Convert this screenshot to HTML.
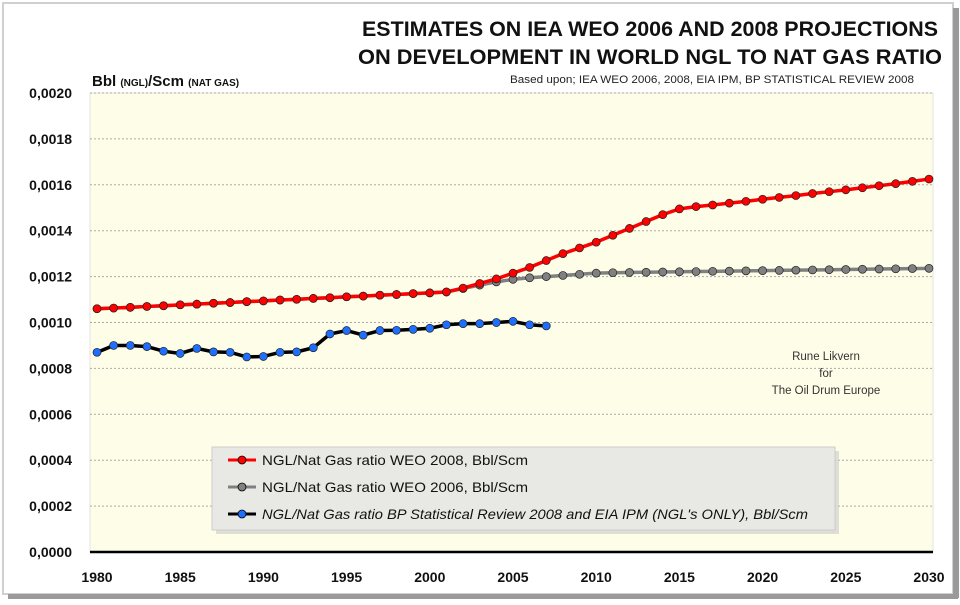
<!DOCTYPE html>
<html><head><meta charset="utf-8"><style>
body{margin:0;background:#fff;width:960px;height:600px;overflow:hidden}
text{font-family:"Liberation Sans",sans-serif}
</style></head><body>
<svg id="s" width="960" height="600" xmlns="http://www.w3.org/2000/svg">
<rect x="0" y="0" width="960" height="600" fill="#fff"/>
<rect x="3" y="3" width="950" height="591" fill="#fff" stroke="#d0d0d0" stroke-width="2"/>
<rect x="953" y="8" width="6" height="590" fill="#9a9a9a"/>
<rect x="8" y="594" width="950" height="5" fill="#9a9a9a"/>
<rect x="90" y="93" width="843" height="459" fill="#fefee8" stroke="#ddd" stroke-width="0.8"/>
<g id="grid" stroke="#aaa" stroke-dasharray="2,2" stroke-width="1"></g>
<line x1="90" y1="552" x2="933" y2="552" stroke="#000" stroke-width="2.5"/>
<g font-weight="bold" font-size="21" fill="#111" text-anchor="middle">
<text x="650" y="36" textLength="576" lengthAdjust="spacingAndGlyphs">ESTIMATES ON IEA WEO 2006 AND 2008 PROJECTIONS</text>
<text x="650" y="64" textLength="584" lengthAdjust="spacingAndGlyphs">ON DEVELOPMENT IN WORLD  NGL TO NAT GAS RATIO</text>
</g>
<text x="914" y="83" font-size="11" text-anchor="end" fill="#222" textLength="404" lengthAdjust="spacingAndGlyphs">Based upon; IEA WEO 2006,  2008, EIA IPM, BP STATISTICAL REVIEW 2008</text>
<text x="92" y="86" font-weight="bold" font-size="15" fill="#111">Bbl <tspan font-size="10">(NGL)</tspan>/Scm <tspan font-size="10">(NAT GAS)</tspan></text>
<g id="yl" font-weight="bold" font-size="14" fill="#111" text-anchor="end"></g>
<g id="xl" font-weight="bold" font-size="14" fill="#111" text-anchor="middle"></g>
<g font-size="11.5" fill="#333" text-anchor="middle">
<text x="826" y="360">Rune Likvern</text><text x="826" y="377">for</text><text x="826" y="394">The Oil Drum Europe</text>
</g>
<g id="series"></g>
<rect x="216" y="451" width="623" height="83" fill="#c8c8c8" opacity="0.6"/>
<rect x="212" y="447" width="623" height="83" fill="#e8e8e4" stroke="#ccc"/>
<g font-size="14" fill="#111">
<line x1="228" y1="460" x2="256" y2="460" stroke="#f00" stroke-width="3"/><circle cx="242" cy="460" r="4" fill="#f00" stroke="#000" stroke-width="0.8"/>
<text x="262" y="465" textLength="266" lengthAdjust="spacingAndGlyphs">NGL/Nat Gas ratio WEO 2008,  Bbl/Scm</text>
<line x1="228" y1="487" x2="256" y2="487" stroke="#808080" stroke-width="3"/><circle cx="242" cy="487" r="4" fill="#808080" stroke="#000" stroke-width="0.8"/>
<text x="262" y="492" textLength="266" lengthAdjust="spacingAndGlyphs">NGL/Nat Gas ratio WEO 2006,  Bbl/Scm</text>
<line x1="228" y1="514" x2="256" y2="514" stroke="#000" stroke-width="3"/><circle cx="242" cy="514" r="4" fill="#1e6fff" stroke="#000" stroke-width="0.8"/>
<text x="262" y="519" font-style="italic" textLength="546" lengthAdjust="spacingAndGlyphs">NGL/Nat Gas ratio BP Statistical Review 2008 and EIA IPM (NGL's ONLY), Bbl/Scm</text>
</g>
</svg>
<script>
var ns="http://www.w3.org/2000/svg";
function el(p,t,a,txt){var e=document.createElementNS(ns,t);for(var k in a)e.setAttribute(k,a[k]);if(txt)e.textContent=txt;document.getElementById(p).appendChild(e);return e;}
function X(y){return 97+(y-1980)*16.64}
function Y(v){return 552-v*229500}
for(var i=1;i<=10;i++){var yy=Y(i*0.0002);el("grid","line",{x1:90,x2:933,y1:yy,y2:yy});}
for(var i=0;i<=10;i++){el("yl","text",{x:72,y:Y(i*0.0002)+5},"0,"+("000"+(i*2)).slice(-4));}
for(var y=1980;y<=2030;y+=5)el("xl","text",{x:X(y),y:582},""+y);
var red=[1.06,1.063,1.066,1.07,1.073,1.077,1.08,1.084,1.087,1.091,1.094,1.098,1.101,1.105,1.108,1.112,1.115,1.119,1.122,1.126,1.129,1.133,1.15,1.17,1.19,1.215,1.24,1.27,1.30,1.325,1.35,1.38,1.41,1.44,1.47,1.495,1.505,1.512,1.52,1.528,1.537,1.545,1.553,1.562,1.57,1.578,1.587,1.596,1.605,1.615,1.625];
var gray=[1.06,1.063,1.066,1.07,1.073,1.077,1.08,1.084,1.087,1.091,1.094,1.098,1.101,1.105,1.108,1.112,1.115,1.119,1.122,1.126,1.129,1.133,1.148,1.163,1.177,1.188,1.195,1.2,1.205,1.21,1.215,1.217,1.218,1.219,1.22,1.221,1.222,1.223,1.224,1.225,1.226,1.227,1.228,1.229,1.23,1.231,1.232,1.233,1.234,1.235,1.236];
var blue=[0.87,0.90,0.90,0.895,0.875,0.865,0.887,0.872,0.87,0.85,0.852,0.87,0.872,0.89,0.95,0.965,0.945,0.965,0.966,0.97,0.975,0.99,0.995,0.995,1.0,1.005,0.99,0.985];
function draw(d,lc,fc){var pts=d.map(function(v,i){return X(1980+i)+","+Y(v/1000)}).join(" ");
el("series","polyline",{points:pts,fill:"none",stroke:lc,"stroke-width":3.5,"stroke-linejoin":"round"});
d.forEach(function(v,i){el("series","circle",{cx:X(1980+i),cy:Y(v/1000),r:4,fill:fc,stroke:"#222","stroke-width":0.7})});}
draw(gray,"#808080","#808080");draw(red,"#f00","#f00");draw(blue,"#000","#1e6fff");
</script>
</body></html>
